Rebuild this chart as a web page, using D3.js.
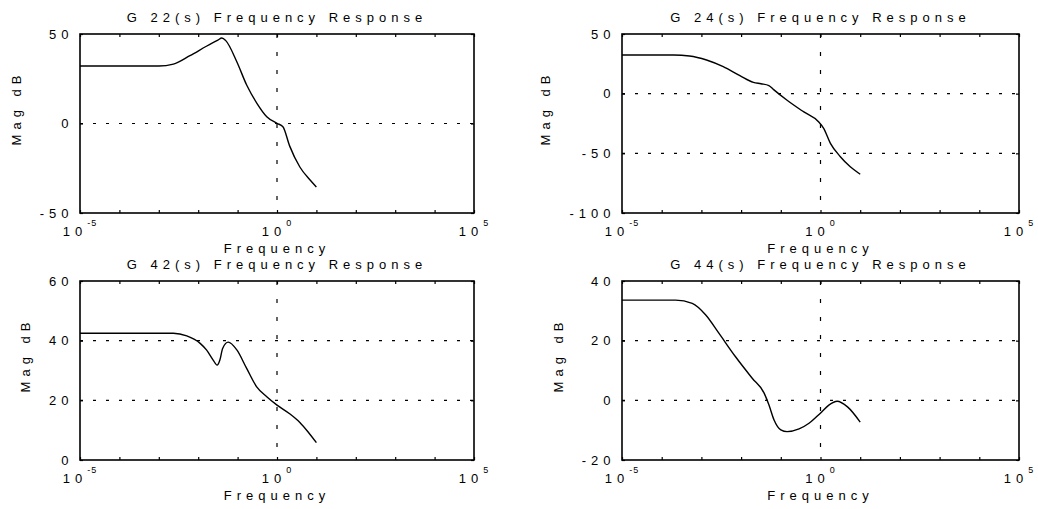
<!DOCTYPE html>
<html>
<head>
<meta charset="utf-8">
<script src="https://cdn.jsdelivr.net/npm/d3@7"></script>
<style>
  body { margin: 0; background: #fff; }
  svg { display: block; }
  text { font-family: "Liberation Sans", Arial, sans-serif; fill: #000; }
</style>
</head>
<body>
<svg id="chart" width="1038" height="509"></svg>
<script>
// values; frequencies are log10(rad/s)
var g22Freq = [-5, -3.0, -2.63, -2.21, -1.78, -1.5, -1.4, -1.3, -1.02, -0.77, -0.51, -0.26, 0.0, 0.15, 0.32, 0.58, 0.84, 1.0];
var g22Mag  = [32.1, 32.1, 33.2, 37.9, 43.3, 46.6, 47.8, 46.3, 34.5, 21.5, 11.3, 3.8, 0.1, -1.8, -12.5, -24.3, -31.6, -35.5];

var g24Freq = [-5, -3.7, -3.3, -2.87, -2.45, -2.03, -1.69, -1.5, -1.3, -1.18, -0.85, -0.43, -0.05, 0.08, 0.25, 0.5, 0.75, 1.0];
var g24Mag  = [32.4, 32.4, 31.6, 28.2, 22.6, 15.1, 9.5, 8.3, 6.8, 3.4, -5.3, -15.1, -23.5, -29.0, -41.6, -52.8, -61.2, -67.5];

var g42Freq = [-5, -2.63, -2.29, -1.95, -1.79, -1.62, -1.52, -1.45, -1.38, -1.24, -1.02, -0.77, -0.52, -0.26, 0.0, 0.33, 0.58, 0.79, 1.0];
var g42Mag  = [42.5, 42.5, 41.6, 39.1, 36.9, 33.5, 31.8, 33.5, 37.4, 39.5, 36.9, 30.7, 24.6, 21.2, 18.4, 15.4, 12.6, 9.4, 5.8];

var g44Freq = [-5, -3.65, -3.23, -2.89, -2.56, -2.14, -1.72, -1.42, -1.3, -1.17, -1.0, -0.84, -0.54, -0.29, -0.01, 0.21, 0.42, 0.68, 1.0];
var g44Mag  = [33.6, 33.6, 32.5, 28.6, 22.5, 14.6, 7.4, 2.4, -1.5, -6.6, -9.9, -10.5, -9.6, -7.7, -4.4, -1.6, -0.3, -2.2, -7.3];

var decades = [-5, -4, -3, -2, -1, 0, 1, 2, 3, 4, 5];
var xLabelExps = [-5, 0, 5];
var xGridExps = [0];

var g22Ticks = [-50, 0, 50],        g22Grid = [0];
var g24Ticks = [-100, -50, 0, 50],  g24Grid = [-50, 0];
var g42Ticks = [0, 20, 40, 60],     g42Grid = [20, 40];
var g44Ticks = [-20, 0, 20, 40],    g44Grid = [0, 20];

var panels = [
  { title: "G 22(s) Frequency Response", freq: g22Freq, mag: g22Mag, ticks: g22Ticks, grid: g22Grid, left: 80,  right: 474,  top: 34,  bottom: 213 },
  { title: "G 24(s) Frequency Response", freq: g24Freq, mag: g24Mag, ticks: g24Ticks, grid: g24Grid, left: 622, right: 1019, top: 34,  bottom: 213 },
  { title: "G 42(s) Frequency Response", freq: g42Freq, mag: g42Mag, ticks: g42Ticks, grid: g42Grid, left: 80,  right: 474,  top: 281, bottom: 460 },
  { title: "G 44(s) Frequency Response", freq: g44Freq, mag: g44Mag, ticks: g44Ticks, grid: g44Grid, left: 622, right: 1019, top: 281, bottom: 460 }
];

var svg = d3.select("#chart");
var pow10 = function (e) { return Math.pow(10, e); };

panels.forEach(function (p) {
  var x = d3.scaleLog().domain([1e-5, 1e5]).range([p.left, p.right]);
  var y = d3.scaleLinear().domain(d3.extent(p.ticks)).range([p.bottom, p.top]);
  var g = svg.append("g");
  var cx = (p.left + p.right) / 2;

  // dotted grid
  g.selectAll(".hgrid").data(p.grid).enter().append("line")
      .attr("x1", p.left).attr("x2", p.right)
      .attr("y1", function (d) { return y(d); }).attr("y2", function (d) { return y(d); })
      .attr("stroke", "#000").attr("stroke-width", 1.2)
      .attr("stroke-dasharray", "3,10");
  g.selectAll(".vgrid").data(xGridExps).enter().append("line")
      .attr("x1", function (d) { return x(pow10(d)); }).attr("x2", function (d) { return x(pow10(d)); })
      .attr("y1", p.top).attr("y2", p.bottom)
      .attr("stroke", "#000").attr("stroke-width", 1.2)
      .attr("stroke-dasharray", "4,14");

  // response curve
  var pts = p.freq.map(function (f, i) { return [f, p.mag[i]]; });
  var line = d3.line()
      .x(function (d) { return x(pow10(d[0])); })
      .y(function (d) { return y(d[1]); })
      .curve(d3.curveMonotoneX);
  g.append("path").datum(pts)
      .attr("d", line)
      .attr("fill", "none").attr("stroke", "#000").attr("stroke-width", 1.4);

  // inward ticks on all four sides
  var tv = decades.map(pow10);
  g.append("g").attr("transform", "translate(0," + p.bottom + ")")
      .call(d3.axisBottom(x).tickValues(tv).tickSize(-3).tickFormat(""));
  g.append("g").attr("transform", "translate(0," + p.top + ")")
      .call(d3.axisTop(x).tickValues(tv).tickSize(-3).tickFormat(""));
  g.append("g").attr("transform", "translate(" + p.left + ",0)")
      .call(d3.axisLeft(y).tickValues(p.ticks).tickSize(-3).tickFormat(""));
  g.append("g").attr("transform", "translate(" + p.right + ",0)")
      .call(d3.axisRight(y).tickValues(p.ticks).tickSize(-3).tickFormat(""));
  g.selectAll(".domain").remove();
  g.selectAll(".tick line").attr("stroke", "#000").attr("stroke-width", 1.2);

  // frame
  g.append("rect")
      .attr("x", p.left).attr("y", p.top)
      .attr("width", p.right - p.left).attr("height", p.bottom - p.top)
      .attr("fill", "none").attr("stroke", "#000").attr("stroke-width", 1.6);

  // y tick labels
  var yl = g.append("g");
  yl.selectAll("text").data(p.ticks).enter().append("text")
      .attr("x", p.left - 6.5)
      .attr("y", function (d) { return y(d); })
      .attr("dy", "0.35em")
      .attr("text-anchor", "end")
      .style("font-size", "13px").style("letter-spacing", "5px")
      .text(function (d) { return d; });

  // x tick labels 10^n
  var xl = g.selectAll(".xl").data(xLabelExps).enter().append("text")
      .attr("x", function (d) { return x(pow10(d)); })
      .attr("y", p.bottom + 23)
      .attr("text-anchor", "middle")
      .style("font-size", "13px").style("letter-spacing", "5px");
  xl.append("tspan").text("10");
  xl.append("tspan")
      .attr("dy", -10.5)
      .style("font-size", "9px").style("letter-spacing", "1px")
      .text(function (d) { return d; });

  // axis titles
  g.append("text")
      .attr("x", cx).attr("y", p.bottom + 39.5)
      .attr("text-anchor", "middle")
      .style("font-size", "13px").style("letter-spacing", "5px")
      .text("Frequency");

  g.append("text")
      .attr("x", cx).attr("y", p.top - 12.5)
      .attr("text-anchor", "middle")
      .style("font-size", "13px").style("letter-spacing", "5px")
      .text(p.title);

  var lb = yl.node().getBBox();
  var ylx = lb.x - 19;
  var yly = (p.top + p.bottom) / 2 - 15.5;
  g.append("text")
      .attr("transform", "translate(" + ylx + "," + yly + ") rotate(-90)")
      .attr("text-anchor", "middle")
      .style("font-size", "13px").style("letter-spacing", "5px")
      .text("Mag dB");
});
</script>
</body>
</html>
